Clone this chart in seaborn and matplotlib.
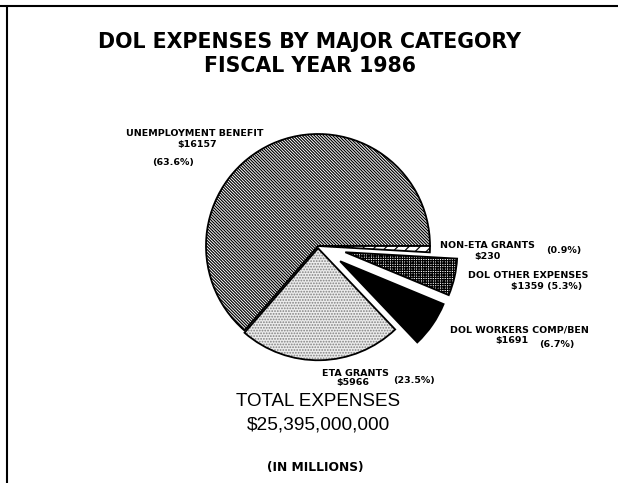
import matplotlib
matplotlib.use("Agg")
import matplotlib.pyplot as plt
from matplotlib.lines import Line2D
from matplotlib.patches import Wedge
import seaborn as sns

categories = ["UNEMPLOYMENT BENEFIT", "ETA GRANTS", "DOL WORKERS COMP/BEN",
              "DOL OTHER EXPENSES", "NON-ETA GRANTS"]
values = [16157, 5966, 1691, 1359, 230]
percents = ["63.6%", "23.5%", "6.7%", "5.3%", "0.9%"]
title_lines = ["DOL EXPENSES BY MAJOR CATEGORY", "FISCAL YEAR 1986"]
total_label = ["TOTAL EXPENSES", "$25,395,000,000"]
units_label = "(IN MILLIONS)"

sns.set_theme(style="white")
plt.rcParams["font.family"] = ["DejaVu Sans"]
plt.rcParams["hatch.linewidth"] = 0.85

W, H = 618, 483
fig = plt.figure(figsize=(W / 100, H / 100), dpi=100)
fig.patch.set_facecolor("white")
ax = fig.add_axes([0, 0, 1, 1])

R = 112.0
cx, cy = 318.0, 246.0

explode = [0.0, 0.02, 0.24, 0.25, 0.0]
hatches = ["\\" * 11, "", "", "+" * 7, "///"]
faces = ["white", "white", "black", "white", "white"]

wedges, _ = ax.pie(values, startangle=0, counterclock=True, explode=explode,
                   colors=faces, radius=1.0,
                   wedgeprops=dict(edgecolor="black", linewidth=1.3))
for w, h in zip(wedges, hatches):
    if h:
        w.set_hatch(h)

# ETA grants: light gray stipple
eta = wedges[1]
eta.set_facecolor("#ececec")
eta.set_edgecolor("#808080")
eta.set_hatch("......")
eta.set_linewidth(0)
outline = Wedge(eta.center, eta.r, eta.theta1, eta.theta2, fill=False,
                edgecolor="black", linewidth=1.3)
ax.add_patch(outline)

ax.set_xlim(-cx / R, (W - cx) / R)
ax.set_ylim(-(H - cy) / R, cy / R)
ax.set_aspect("equal")
ax.axis("off")


def ftext(x, y, s, size, weight="bold", ha="center", family=None):
    kw = {}
    if family:
        kw["family"] = family
    fig.text(x / W, 1 - y / H, s, fontsize=size, fontweight=weight, ha=ha,
             va="center", color="black", **kw)


# Title
ftext(310, 42, title_lines[0], 14.8)
ftext(310, 66, title_lines[1], 14.8)

lab = 6.8
# Unemployment
ftext(195, 134, categories[0], lab)
ftext(197, 144, "$" + str(values[0]), lab)
ftext(173, 163, "(" + percents[0] + ")", lab)
# Non-ETA
ftext(487, 246, categories[4], lab)
ftext(487, 256, "$" + str(values[4]), lab)
ftext(564, 251, "(" + percents[4] + ")", lab)
# DOL other
ftext(528, 276, categories[3], lab)
ftext(547, 287, "$" + str(values[3]) + " (" + percents[3] + ")", lab)
# Workers comp
ftext(519, 330, categories[2], lab)
ftext(512, 340, "$" + str(values[2]), lab)
ftext(557, 344, "(" + percents[2] + ")", lab)
# ETA
ftext(355, 373, categories[1], lab)
ftext(353, 383, "$" + str(values[1]), lab)
ftext(414, 381, "(" + percents[1] + ")", lab)

# Totals
ftext(318, 402, total_label[0], 13.5, weight="normal", family="Liberation Sans")
ftext(318, 425, total_label[1], 13.8, weight="normal", family="Liberation Sans")
ftext(315, 467, units_label, 8.8)

# Border (top and left)
fig.add_artist(Line2D([0, 1], [1 - 6 / H, 1 - 6 / H], color="black", lw=1.5,
                      transform=fig.transFigure))
fig.add_artist(Line2D([7 / W, 7 / W], [0, 1 - 6 / H], color="black", lw=1.5,
                      transform=fig.transFigure))

fig.savefig("out.png", dpi=100, facecolor="white")
